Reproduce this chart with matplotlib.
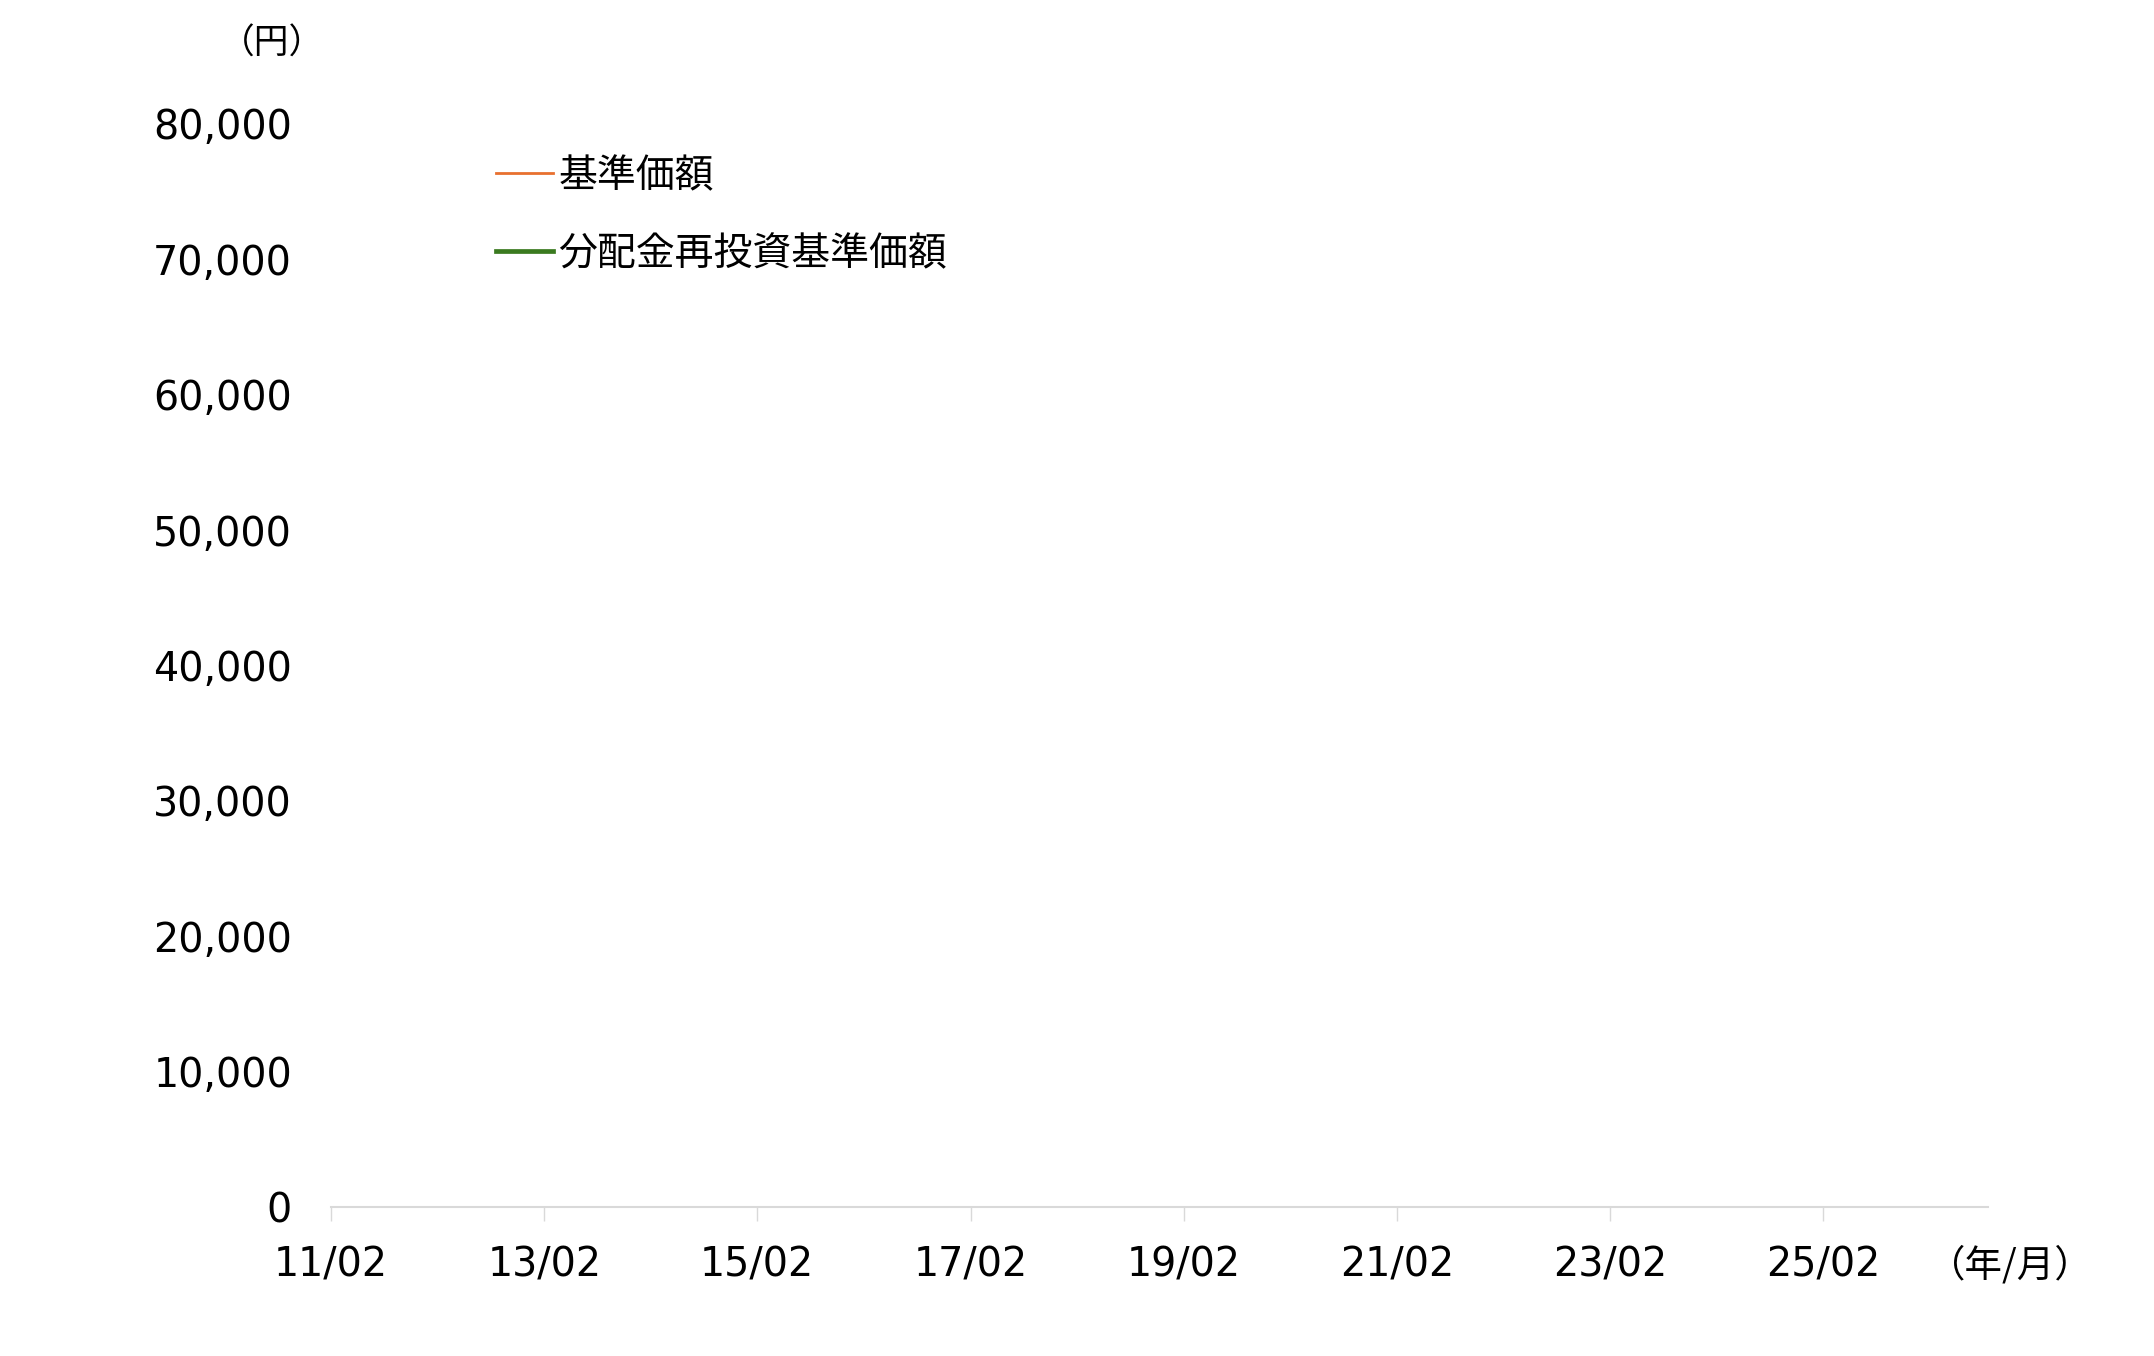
import matplotlib
matplotlib.use("Agg")
import matplotlib.pyplot as plt
import matplotlib.dates as mdates
import matplotlib.ticker as mticker
import datetime as dt

plt.rcParams['font.family'] = ['DejaVu Sans', 'Noto Sans CJK JP']

# data (the chart shows no plotted values)
dates = []
nav = []          # 基準価額
nav_reinvest = [] # 分配金再投資基準価額

labels = ['基準価額', '分配金再投資基準価額']
colors = ['#E8702F', '#3A7A1F']
yticks = [0, 10000, 20000, 30000, 40000, 50000, 60000, 70000, 80000]
xticks = [dt.date(y, 2, 1) for y in range(2011, 2026, 2)]
x_start = dt.date(2011, 2, 1)
x_end = dt.date(2026, 8, 20)

W, H = 2154, 1356
fig = plt.figure(figsize=(W / 100, H / 100), dpi=100)
ax = fig.add_axes([331 / W, 1 - 1207 / H, (1988 - 331) / W, (1207 - 124) / H])

ax.plot(dates, nav, color=colors[0], lw=2, label=labels[0])
ax.plot(dates, nav_reinvest, color=colors[1], lw=3.4, label=labels[1])

ax.set_xlim(x_start, x_end)
ax.set_ylim(0, 80000)
ax.set_yticks(yticks)
ax.yaxis.set_major_formatter(mticker.FuncFormatter(lambda v, p: f'{int(v):,}'))
ax.set_xticks(xticks)
ax.xaxis.set_major_formatter(mdates.DateFormatter('%y/%m'))

for s in ['top', 'right', 'left']:
    ax.spines[s].set_visible(False)
ax.spines['bottom'].set_color('#d9d9d9')
ax.spines['bottom'].set_linewidth(1.5)
ax.tick_params(axis='y', length=0, pad=28, labelsize=28.5)
ax.tick_params(axis='x', length=10, width=1, color='#d9d9d9', pad=18, labelsize=28.5)

ax.legend(loc='upper left', bbox_to_anchor=(496 / W, 1 - 157 / H), bbox_transform=fig.transFigure,
          frameon=False, fontsize=28, handlelength=1.47, handletextpad=0.13,
          labelspacing=1.03, borderpad=0, borderaxespad=0)

fig.text(272 / W, 1 - 44 / H, '（円）', ha='center', va='center', fontsize=25,
         family=['Noto Sans CJK JP', 'DejaVu Sans'])
fig.text(2010 / W, 1 - 1266 / H, '（年/月）', ha='center', va='center', fontsize=27,
         family=['Noto Sans CJK JP', 'DejaVu Sans'])

fig.savefig('out.png', dpi=100, facecolor='white')
